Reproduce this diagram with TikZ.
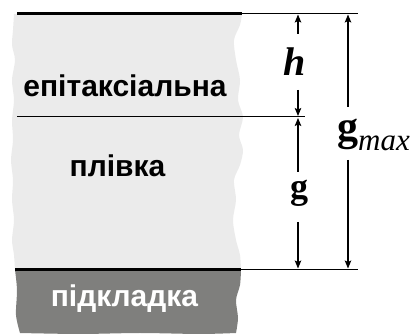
\documentclass[tikz,border=0pt]{standalone}
\usepackage{fontspec}
\setmainfont{Liberation Serif}
\newfontfamily\arialfont{Liberation Sans}
\usetikzlibrary{arrows.meta}
\definecolor{filmgray}{RGB}{235,235,235}
\definecolor{subgray}{RGB}{127,127,125}
\tikzset{
  thickline/.style={line width=3pt},
  thinline/.style={line width=1pt},
  dimarrow/.style={line width=1.2pt,-{Stealth[length=8pt,width=6.5pt,inset=1.5pt]}},
  layertext/.style={font=\arialfont\bfseries\fontsize{30}{30}\selectfont,anchor=base,inner sep=0pt},
  symtext/.style={inner sep=0pt,anchor=base}
}
\begin{document}
\begin{tikzpicture}[x=1pt,y=-1pt]
\useasboundingbox (0,0) rectangle (415,336);
% film region
\fill[filmgray] plot[smooth] coordinates {(14,14)(13,30)(12,45)(15,60)(12,80)(14,100)(12,120)(13,140)(11,160)(13,180)(12,200)(14,220)(12,240)(14,255)(15,270)}
  -- (241,270) -- plot[smooth] coordinates {(241,270)(240,255)(236,240)(233,220)(236,200)(234,180)(240,165)(243,150)(239,135)(243,117)(238,100)(240,80)(236,60)(234,40)(240,25)(242,14)} -- cycle;
% substrate
\fill[subgray] (15,270) -- (241,270) -- plot[smooth] coordinates {(241,270)(240,285)(236,300)(238,318)(236,333)} -- plot[smooth] coordinates {(236,333)(200,334)(140,333)(80,334)(20,333)} -- plot[smooth] coordinates {(20,333)(16,315)(17,290)(15,270)} -- cycle;
% lines
\coordinate (tl) at (17,13.5);
\coordinate (tm) at (242,13.5);
\coordinate (tr) at (358,13.5);
\coordinate (ml) at (17,117);
\coordinate (mr) at (305,117);
\coordinate (bl) at (15,269.5);
\coordinate (bm) at (241,269.5);
\coordinate (br) at (358,269.5);
\draw[thickline] (tl) -- (tm);
\draw[thinline] (tm) -- (tr);
\draw[thinline] (ml) -- (mr);
\draw[thickline] (bl) -- (bm);
\draw[thinline] (bm) -- (br);
% layer texts
\node[layertext] (epi) at (125,97) {епітаксіальна};
\node[layertext] (film) at (117.5,177) {плівка};
\node[layertext,text=white] (sub) at (124.5,307) {підкладка};
% symbols
\node[symtext,font=\bfseries\itshape\fontsize{40}{40}\selectfont] (h) at (295,76) {h};
\node[symtext,font=\bfseries\fontsize{36}{36}\selectfont] (g) at (299,199) {g};
\node[symtext,anchor=base west] (gmax) at (337,141) {\fontsize{42}{42}\selectfont\bfseries g\raisebox{-10pt}{\fontsize{31}{31}\selectfont\mdseries\itshape max}};
% arrows
\coordinate (hup) at (298,34);
\coordinate (htip) at (298,14.5);
\coordinate (hdn) at (298,90);
\coordinate (hbot) at (298,116);
\coordinate (gup) at (298,172);
\coordinate (gtip) at (298,118);
\coordinate (gdn) at (298,222);
\coordinate (gbot) at (298,268.5);
\coordinate (mup) at (348,107);
\coordinate (mtip) at (348,14.5);
\coordinate (mdn) at (348,160);
\coordinate (mbot) at (348,268.5);
\draw[dimarrow] (hup) -- (htip);
\draw[dimarrow] (hdn) -- (hbot);
\draw[dimarrow] (gup) -- (gtip);
\draw[dimarrow] (gdn) -- (gbot);
\draw[dimarrow] (mup) -- (mtip);
\draw[dimarrow] (mdn) -- (mbot);
\end{tikzpicture}
\end{document}
